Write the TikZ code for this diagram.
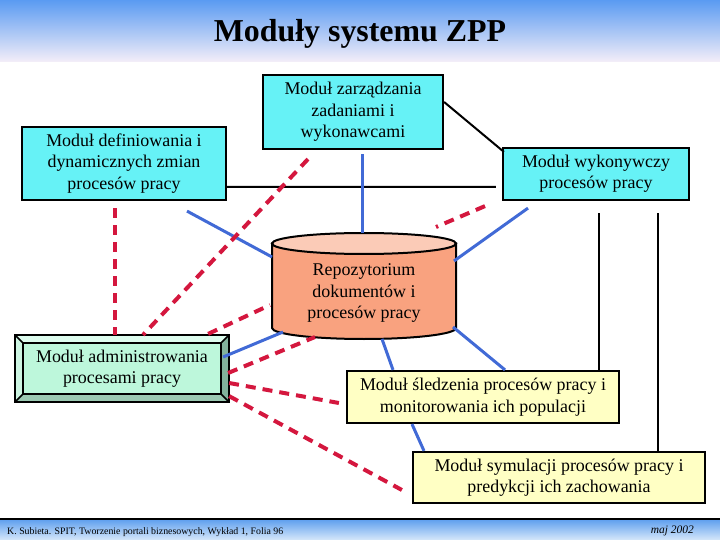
\documentclass[tikz,border=0pt]{standalone}
\usepackage{fontspec}
\setmainfont{Liberation Serif}
\usepackage{tikz}
\usetikzlibrary{calc,backgrounds}
\definecolor{modcyan}{HTML}{66F2F6}
\definecolor{modyellow}{HTML}{FFFFC4}
\definecolor{modmint}{HTML}{BDF7DB}
\definecolor{bevellight}{HTML}{DDFCEE}
\definecolor{bevelside}{HTML}{CDF5E2}
\definecolor{beveldark}{HTML}{82B29C}
\definecolor{bevelbottom}{HTML}{9BC9B2}
\definecolor{repobody}{HTML}{F9A27F}
\definecolor{repolid}{HTML}{FBCBB7}
\definecolor{linkblue}{HTML}{416AD6}
\definecolor{linkred}{HTML}{D4173E}
\definecolor{bannertop}{HTML}{5A9BF2}
\definecolor{bannerbot}{HTML}{F4EEF8}
\definecolor{foottop}{HTML}{5C9EEE}
\definecolor{footbot}{HTML}{D6E7FA}
\tikzset{
  modbox/.style={
    rectangle, draw=black, fill=#1, line width=2.2bp,
    font=\fontsize{18}{21.5}\selectfont, align=center,
    inner sep=2bp
  },
  modbox/.default=modcyan,
  bluelink/.style={line width=3bp, color=linkblue},
  redlink/.style={line width=4bp, color=linkred, dash pattern=on 10bp off 7bp},
  blacklink/.style={line width=2bp, color=black},
  footnode/.style={font=\fontsize{9.9}{11}\selectfont, inner sep=0pt},
}
\begin{document}
\begin{tikzpicture}[x=1bp, y=-1bp]
\useasboundingbox (0,0) rectangle (720,540);

% Title banner
\shade[top color=bannertop, bottom color=bannerbot] (0,0) rectangle (720,62);
\node[font=\fontsize{32}{35}\selectfont\bfseries, anchor=base] (title) at (360,42) {Moduły systemu ZPP};

% Modules
\node[modbox, minimum width=204bp, minimum height=73bp] (defin) at (124,163.5) {Moduł definiowania i\\dynamicznych zmian\\procesów pracy};
\node[modbox, minimum width=180bp, minimum height=74bp] (zarz) at (353,112) {Moduł zarządzania\\zadaniami i\\wykonawcami};
\node[modbox, minimum width=186bp, minimum height=52bp] (wyk) at (596,174) {Moduł wykonywczy\\procesów pracy};
\node[modbox=modyellow, minimum width=272bp, minimum height=52bp] (sled) at (483,397) {Moduł śledzenia procesów pracy i\\monitorowania ich populacji};
\node[modbox=modyellow, minimum width=292bp, minimum height=51bp] (sym) at (559,477.5) {Moduł symulacji procesów pracy i\\predykcji ich zachowania};

% Repository (cylinder)
\node[font=\fontsize{18}{21.5}\selectfont, align=center, inner sep=0pt] (repo) at (364,293) {Repozytorium\\dokumentów i\\procesów pracy};
\coordinate (repotop) at ($(repo.center)+(0,-49.5)$);
\coordinate (repobot) at ($(repo.center)+(0,35)$);
\begin{scope}[on background layer]
  \draw[fill=repobody, line width=2bp] ($(repotop)+(-92,0)$) -- ($(repobot)+(-92,0)$)
    arc[start angle=180, end angle=0, x radius=92, y radius=11] -- ($(repotop)+(92,0)$) -- cycle;
  \draw[fill=repolid, line width=2bp] (repotop) ellipse[x radius=92, y radius=10.5];
\end{scope}

% Administration module (bevelled)
\node[modbox=modmint, minimum width=212bp, minimum height=65bp] (admin) at (122,368.5) {Moduł administrowania\\procesami pracy};
\fill[bevellight] (admin.north west) -- (admin.north east) -- ($(admin.north east)+(-8,8)$) -- ($(admin.north west)+(8,8)$) -- cycle;
\fill[bevelside] (admin.north west) -- ($(admin.north west)+(8,8)$) -- ($(admin.south west)+(8,-8)$) -- (admin.south west) -- cycle;
\fill[beveldark] (admin.north east) -- (admin.south east) -- ($(admin.south east)+(-8,-8)$) -- ($(admin.north east)+(-8,8)$) -- cycle;
\fill[bevelbottom] (admin.south west) -- (admin.south east) -- ($(admin.south east)+(-8,-8)$) -- ($(admin.south west)+(8,-8)$) -- cycle;
\draw[line width=1.5bp] ($(admin.north west)+(8,8)$) rectangle ($(admin.south east)+(-8,-8)$);
\draw[line width=1.5bp] (admin.north west) -- ++(8,8) (admin.north east) -- ++(-8,8)
  (admin.south west) -- ++(8,-8) (admin.south east) -- ++(-8,-8);
\draw[line width=2.2bp] (admin.north west) rectangle (admin.south east);

% Black links
\draw[blacklink] ($(defin.east)+(0,23.5)$) -- ($(wyk.west)+(-6,13)$);
\draw[blacklink] ($(zarz.east)+(0,-10)$) -- ($(wyk.north west)+(2,5)$);
\draw[blacklink] ($(wyk.south)+(3,12)$) coordinate (wyk1) -- (wyk1 |- sled.north);
\draw[blacklink] ($(wyk.south)+(62,12)$) coordinate (wyk2) -- (wyk2 |- sym.north);

% Blue links
\draw[bluelink] ($(defin.south)+(63,10)$) -- ($(repotop)+(-92,13.5)$);
\draw[bluelink] ($(zarz.south)+(9,4)$) -- ($(repotop)+(-2,-10.5)$);
\draw[bluelink] ($(wyk.south)+(-68,7)$) -- ($(repotop)+(90,17.5)$);
\draw[bluelink] ($(admin.east)+(-6,-11.5)$) -- ($(repobot)+(-81,4)$);
\draw[bluelink] ($(repobot)+(89,-1)$) -- ($(sled.north)+(22,0)$);
\draw[bluelink] ($(repobot)+(18,11)$) -- ($(sled.north)+(-90,0)$);
\draw[bluelink] ($(sled.south)+(-71,0)$) -- ($(sym.north)+(-135,0)$);

% Red dashed links
\draw[redlink] ($(defin.south)+(-9,7)$) coordinate (def1) -- (def1 |- admin.north);
\draw[redlink] ($(zarz.south)+(-45,9)$) -- ($(admin.north)+(21,0)$);
\draw[redlink] ($(wyk.south)+(-111,5)$) -- ($(repotop)+(72,-16.5)$);
\draw[redlink] ($(admin.north east)+(-21,-1)$) -- ($(repotop)+(-94,61.5)$);
\draw[redlink] ($(admin.east)+(-1,4.5)$) -- ($(repobot)+(-49,9)$);
\draw[redlink] ($(admin.east)+(0,14.5)$) -- ($(sled.west)+(-7,6)$);
\draw[redlink] ($(admin.south east)+(0,-6)$) -- ($(sym.west)+(-10,12.5)$);

% Footer
\shade[top color=foottop, bottom color=footbot] (0,519) rectangle (720,540);
\draw[line width=2.5bp] (0,519) -- (720,519);
\node[footnode, anchor=base west] (foot) at (7,534) {K. Subieta. SPIT, Tworzenie portali biznesowych, Wykład 1, Folia 96};
\node[footnode, font=\fontsize{11.5}{13}\selectfont\itshape, anchor=base east] (date) at (694,533) {maj 2002};

\end{tikzpicture}
\end{document}
